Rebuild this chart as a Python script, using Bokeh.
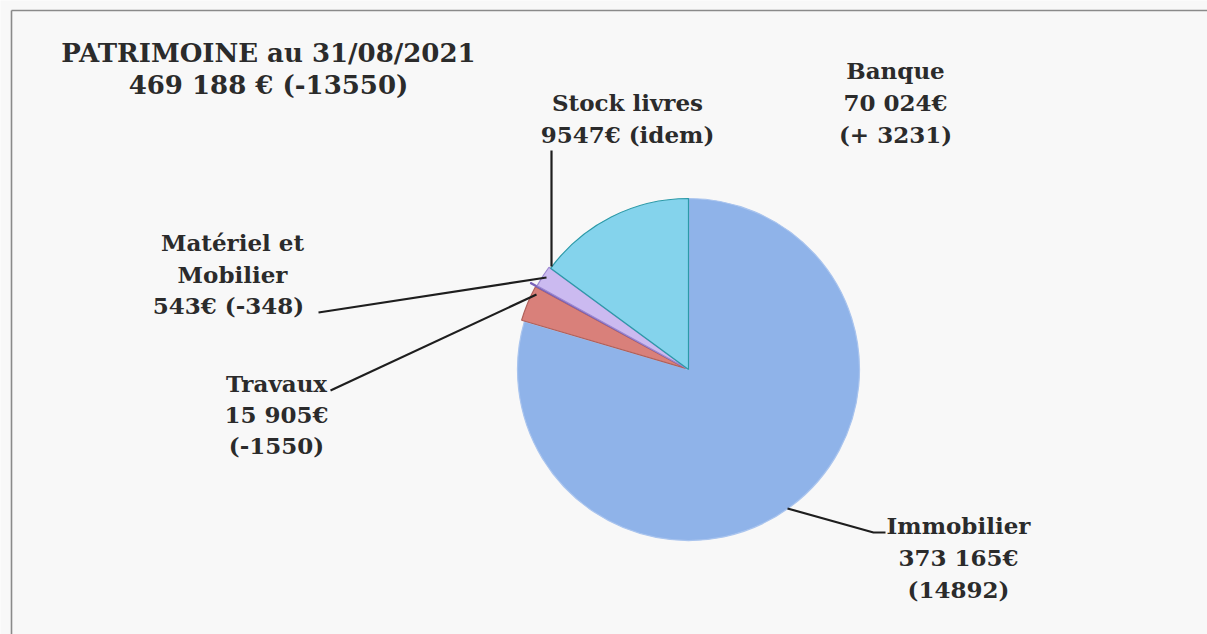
import math
from bokeh.plotting import figure
from bokeh.models import Range1d
from bokeh.core.properties import value
from bokeh.embed import file_html
from bokeh.resources import INLINE

# ---- data (clockwise from 12 o'clock) ----
categories = ["Immobilier", "Travaux", "Matériel et Mobilier", "Stock livres", "Banque"]
amounts = [373165, 15905, 543, 9547, 70024]
changes = ["(14892)", "(-1550)", "(-348)", "(idem)", "(+ 3231)"]
amount_labels = ["373 165€", "15 905€", "543€", "9547€", "70 024€"]
total_label = "469 188 € (-13550)"
title_text = "PATRIMOINE au 31/08/2021"

colors = ["#8fb3e9", "#d9807a", "#a68fdc", "#cbbaf0", "#84d3ec"]
edge_colors = ["#a9c4ee", "#b0605a", "#7a62b8", "#9c88d0", "#2c9aa8"]
explode = [0, 3, 9, 2, 0]

W, H = 1207, 634


def P(px, py):
    return px, H - py


p = figure(width=W, height=H, output_backend="svg", toolbar_location=None,
           x_range=Range1d(0, W), y_range=Range1d(0, H), min_border=0,
           background_fill_color="#f8f8f8", border_fill_color="#f8f8f8")
p.axis.visible = False
p.grid.visible = False
p.outline_line_color = None

# frame of the scanned page
fx, fy = P(11, 10)
p.line([fx, fx], [0, fy], line_color="#8a8a8a", line_width=1.6)
p.line([fx, W], [fy, fy], line_color="#8a8a8a", line_width=1.6)

# ---- pie ----
cx, cy = P(688, 369)
R = 171
total = sum(amounts)
start = 90.0
for i, a in enumerate(amounts):
    sweep = a / total * 360.0
    end = start - sweep
    mid = math.radians((start + end) / 2)
    ex, ey = cx + explode[i] * math.cos(mid), cy + explode[i] * math.sin(mid)
    p.wedge(x=ex, y=ey, radius=R, start_angle=math.radians(end), end_angle=math.radians(start),
            fill_color=colors[i], line_color=edge_colors[i], line_width=1.2)
    start = end

# ---- labels ----
font = value("DejaVu Serif")
col = "#2b2b2b"


def label(lines, px, py_first, size="23px", step=32):
    for k, t in enumerate(lines):
        x, y = P(px, py_first + k * step)
        p.text(x=[x], y=[y], text=[t], text_font=font, text_font_style="bold",
               text_font_size=size, text_color=col, text_align="center", text_baseline="middle")


label([title_text, total_label], 268, 52, size="26px", step=32)
label(["Banque", amount_labels[4], changes[4]], 895, 70)
label(["Stock livres", amount_labels[3] + " " + changes[3]], 627, 102)
label(["Matériel et", "Mobilier", amount_labels[2] + "  " + changes[2]], 232, 242, step=31.5)
label(["Travaux", amount_labels[1], changes[1]], 276, 383, step=31)
label(["Immobilier", amount_labels[0], changes[0]], 958, 525, step=32)

# ---- leader lines ----
leaders = [
    [(551, 150), (551, 266)],
    [(318, 312), (546, 277)],
    [(330, 390), (536, 294)],
    [(787, 508), (873, 532), (885, 532)],
]
for pts in leaders:
    xs = [P(a, b)[0] for a, b in pts]
    ys = [P(a, b)[1] for a, b in pts]
    p.line(xs, ys, line_color="#1e1e1e", line_width=2.2)

open("out.html", "w").write(file_html(p, INLINE))
